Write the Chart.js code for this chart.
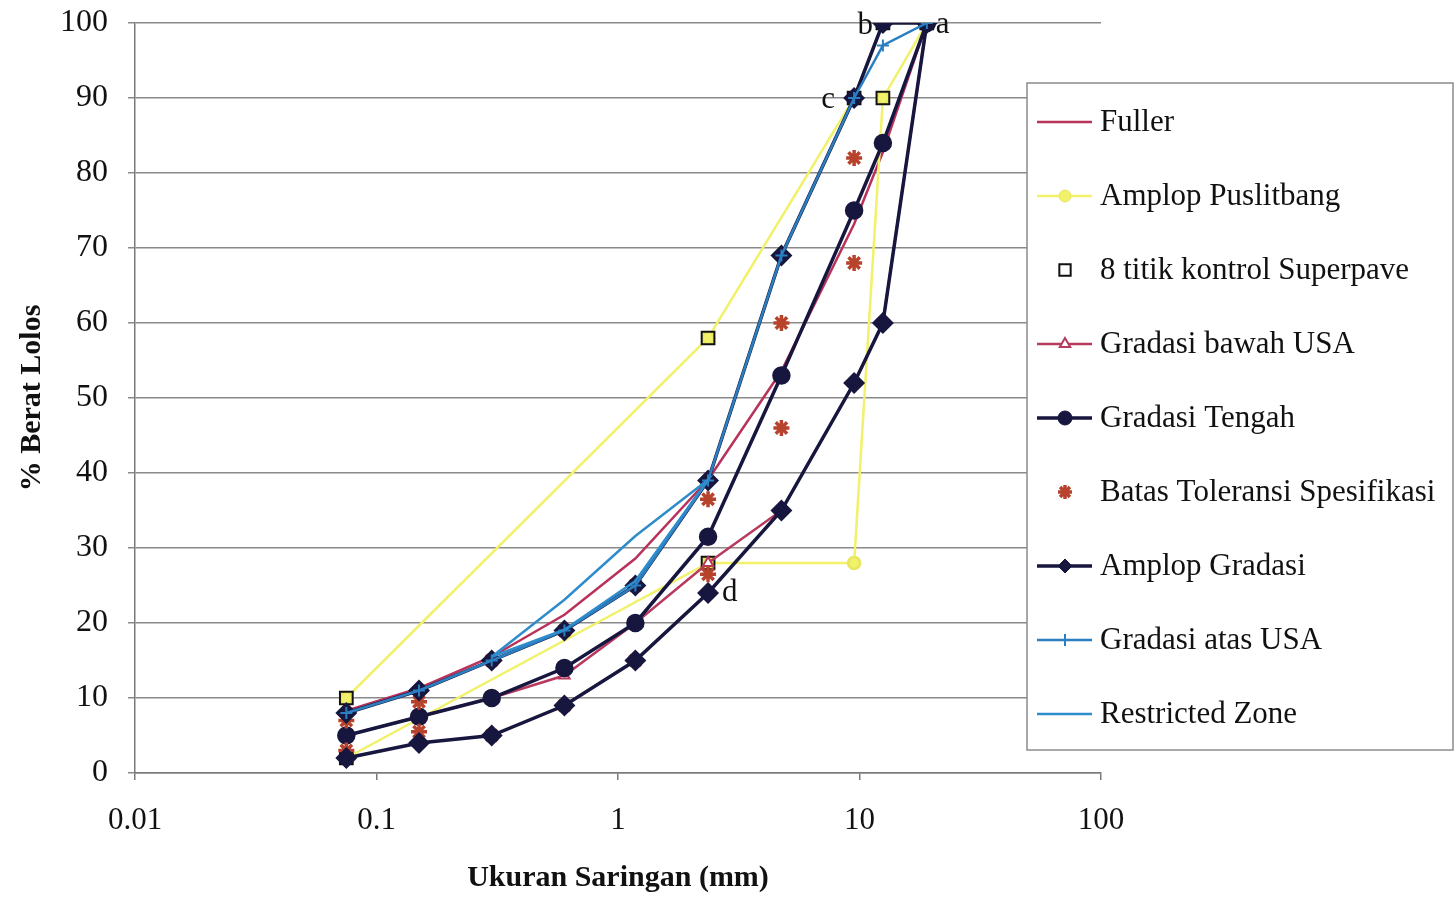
<!DOCTYPE html>
<html>
<head>
<meta charset="utf-8">
<script src="https://cdn.jsdelivr.net/npm/chart.js@4.4.1/dist/chart.umd.min.js"></script>
<style>
  html, body { margin: 0; padding: 0; background: #fff; }
  #wrap { width: 1456px; height: 899px; }
</style>
</head>
<body>
<div id="wrap"><canvas id="gradasiChart" width="1456" height="899"></canvas></div>
<script>
// ukuran saringan (mm)
const sieveSizes = [0.075, 0.15, 0.3, 0.6, 1.18, 2.36, 4.75, 9.5, 12.5, 19];

const fullerPassing = [8.3, 11.3, 15.5, 21.1, 28.6, 39.1, 53.6, 73.2, 82.8, 100];
const gradasiBawahUSA = [5, 7.5, 10, 13, 20, 28, 35, 52, 60, 100];
const gradasiTengah = [5, 7.5, 10, 14, 20, 31.5, 53, 75, 84, 100];
const gradasiAtasUSA = [8, 11, 15, 19, 25, 39, 69, 90, 97, 100];

// amplop puslitbang (bawah lalu atas)
const puslitbangX = [0.075, 2.36, 9.5, 12.5, 19, 12.5, 9.5, 2.36, 0.075];
const puslitbangY = [2, 28, 28, 90, 100, 100, 90, 58, 10];

// 8 titik kontrol superpave
const kontrolX = [0.075, 0.075, 2.36, 2.36, 9.5, 12.5, 12.5, 19];
const kontrolY = [2, 10, 28, 58, 90, 90, 100, 100];

// batas toleransi spesifikasi
const toleransiX = [0.075, 0.075, 0.15, 0.15, 0.3, 0.3, 0.6, 0.6, 1.18, 1.18, 2.36, 2.36, 4.75, 4.75, 9.5, 9.5];
const toleransiY = [7, 3, 9.5, 5.5, 15, 5, 19, 9, 25, 15, 36.5, 26.5, 60, 46, 82, 68];

// amplop gradasi (batas bawah lalu batas atas)
const amplopX = [0.075, 0.15, 0.3, 0.6, 1.18, 2.36, 4.75, 9.5, 12.5, 19, 12.5, 9.5, 4.75, 2.36, 1.18, 0.6, 0.3, 0.15, 0.075];
const amplopY = [2, 4, 5, 9, 15, 24, 35, 52, 60, 100, 100, 90, 69, 39, 25, 19, 15, 11, 8];

// restricted zone
const restrictedX = [0.3, 0.6, 1.18, 2.36, 1.18, 0.6, 0.3];
const restrictedY = [15.5, 23.1, 31.6, 39.1, 25.6, 19.1, 15.5];

const xTickValues = [0.01, 0.1, 1, 10, 100];
const xTickLabels = ['0.01', '0.1', '1', '10', '100'];

const pointLabels = [
    { text: 'a', x: 19, y: 100, dx: 9, dy: 2, align: 'left' },
    { text: 'b', x: 12.5, y: 100, dx: -10, dy: 3, align: 'right' },
    { text: 'c', x: 9.5, y: 90, dx: -19, dy: 2, align: 'right' },
    { text: 'd', x: 2.36, y: 24, dx: 14, dy: 0, align: 'left' }
];

function toPoints(xs, ys) {
    return xs.map((x, i) => ({ x: x, y: ys[i] }));
}

const serif = "'Liberation Serif', 'Times New Roman', serif";
const navy = '#16163e';

const datasets = [
    {
        label: 'Fuller',
        data: toPoints(sieveSizes, fullerPassing),
        showLine: true, borderColor: '#b8325a', borderWidth: 2.5, pointRadius: 0
    },
    {
        label: 'Amplop Puslitbang',
        data: toPoints(puslitbangX, puslitbangY),
        showLine: true, borderColor: '#f1f16a', borderWidth: 2.5,
        pointStyle: 'circle', pointRadius: 6, pointBackgroundColor: '#f1f16a', pointBorderColor: '#e6e660'
    },
    {
        label: '8 titik kontrol Superpave',
        data: toPoints(kontrolX, kontrolY),
        showLine: false, pointStyle: 'rect', pointRadius: 9,
        pointBackgroundColor: 'rgba(0,0,0,0)', pointBorderColor: '#111', pointBorderWidth: 2
    },
    {
        label: 'Gradasi bawah USA',
        data: toPoints(sieveSizes, gradasiBawahUSA),
        showLine: true, borderColor: '#b73a5e', borderWidth: 2.5,
        pointStyle: 'triangle', pointRadius: 6, pointBackgroundColor: '#fff', pointBorderColor: '#b73a5e', pointBorderWidth: 2
    },
    {
        label: 'Gradasi Tengah',
        data: toPoints(sieveSizes, gradasiTengah),
        showLine: true, borderColor: navy, borderWidth: 3.5,
        pointStyle: 'circle', pointRadius: 7.5, pointBackgroundColor: navy, pointBorderColor: navy
    },
    {
        label: 'Batas Toleransi Spesifikasi',
        data: toPoints(toleransiX, toleransiY),
        showLine: false, pointStyle: 'star', pointRadius: 8,
        pointBorderColor: '#b8432c', pointBackgroundColor: '#b8432c', pointBorderWidth: 3.5
    },
    {
        label: 'Amplop Gradasi',
        data: toPoints(amplopX, amplopY),
        showLine: true, borderColor: navy, borderWidth: 3.5,
        pointStyle: 'rectRot', pointRadius: 8.5, pointBackgroundColor: navy, pointBorderColor: navy
    },
    {
        label: 'Gradasi atas USA',
        data: toPoints(sieveSizes, gradasiAtasUSA),
        showLine: true, borderColor: '#2b7fc0', borderWidth: 2.5,
        pointStyle: 'cross', pointRadius: 6, pointBorderColor: '#2b7fc0', pointBorderWidth: 2
    },
    {
        label: 'Restricted Zone',
        data: toPoints(restrictedX, restrictedY),
        showLine: true, borderColor: '#2f8ccc', borderWidth: 2.5, pointRadius: 0
    }
];

// seri terakhir digambar paling atas, seperti di Excel
datasets.forEach((ds, i) => {
    ds.order = datasets.length - i;
    ds.tension = 0;
    ds.fill = false;
});

const boxLegend = {
    id: 'boxLegend',
    afterDraw(chart) {
        const ctx = chart.ctx;
        const left = 1027, top = 83, width = 426, height = 667;
        ctx.save();
        ctx.fillStyle = '#fff';
        ctx.fillRect(left, top, width, height);
        ctx.strokeStyle = '#8c8c8c';
        ctx.lineWidth = 1.5;
        ctx.strokeRect(left, top, width, height);

        chart.data.datasets.forEach((ds, i) => {
            const cy = 122 + i * 74;
            if (ds.showLine) {
                ctx.strokeStyle = ds.borderColor;
                ctx.lineWidth = ds.borderWidth;
                ctx.beginPath();
                ctx.moveTo(1037, cy);
                ctx.lineTo(1092, cy);
                ctx.stroke();
            }
            if (ds.pointRadius > 0 && Chart.helpers && Chart.helpers.drawPoint) {
                ctx.fillStyle = ds.pointBackgroundColor || ds.borderColor;
                ctx.strokeStyle = ds.pointBorderColor || ds.borderColor;
                ctx.lineWidth = ds.pointBorderWidth || 1;
                const r = ds.pointStyle === 'rect' ? 8 : Math.min(ds.pointRadius, 7);
                Chart.helpers.drawPoint(ctx, {
                    pointStyle: ds.pointStyle,
                    radius: r,
                    rotation: 0,
                    borderWidth: ds.pointBorderWidth || 1
                }, 1065, cy);
            }
            ctx.fillStyle = '#111';
            ctx.font = '31px ' + serif;
            ctx.textAlign = 'left';
            ctx.textBaseline = 'middle';
            ctx.fillText(ds.label, 1100, cy + 1);
        });
        ctx.restore();
    }
};

const letterLabels = {
    id: 'letterLabels',
    afterDatasetsDraw(chart) {
        const ctx = chart.ctx;
        const xs = chart.scales.x, ys = chart.scales.y;
        ctx.save();
        ctx.fillStyle = '#111';
        ctx.font = '31px ' + serif;
        ctx.textBaseline = 'middle';
        pointLabels.forEach(p => {
            ctx.textAlign = p.align;
            ctx.fillText(p.text, xs.getPixelForValue(p.x) + p.dx, ys.getPixelForValue(p.y) + p.dy);
        });
        ctx.restore();
    }
};

const ctx = document.getElementById('gradasiChart').getContext('2d');
const gradasiChart = new Chart(ctx, {
    type: 'scatter',
    data: { datasets: datasets },
    options: {
        responsive: false,
        animation: false,
        devicePixelRatio: 1,
        events: [],
        layout: { padding: { left: 0, right: 355, top: 23, bottom: 0 } },
        plugins: {
            legend: { display: false },
            tooltip: { enabled: false }
        },
        scales: {
            x: {
                type: 'logarithmic',
                position: 'bottom',
                min: 0.01,
                max: 100,
                afterBuildTicks: function(scale) {
                    scale.ticks = xTickValues.map(v => ({ value: v, major: true }));
                },
                afterFit: function(scale) {
                    scale.height = 126;
                    scale.paddingLeft = 0;
                    scale.paddingRight = 0;
                },
                ticks: {
                    autoSkip: false,
                    maxRotation: 0,
                    padding: 22,
                    color: '#111',
                    font: { family: serif, size: 31 },
                    callback: function(value, index) { return xTickLabels[index]; }
                },
                grid: { drawOnChartArea: false, drawTicks: true, tickLength: 7, color: '#7a7a7a', lineWidth: 1.5 },
                border: { display: true, color: '#7a7a7a', width: 1.5 },
                title: {
                    display: true,
                    text: 'Ukuran Saringan (mm)',
                    color: '#111',
                    font: { family: serif, size: 30, weight: 'bold' },
                    padding: { top: 0, bottom: 3 }
                }
            },
            y: {
                type: 'linear',
                min: 0,
                max: 100,
                afterFit: function(scale) {
                    scale.width = 135;
                    scale.paddingTop = 0;
                    scale.paddingBottom = 0;
                },
                ticks: {
                    stepSize: 10,
                    padding: 20,
                    color: '#111',
                    font: { family: serif, size: 32 }
                },
                grid: { color: '#8a8a8a', lineWidth: 1.5, tickLength: 7 },
                border: { display: true, color: '#7a7a7a', width: 1.5 },
                title: {
                    display: true,
                    text: '% Berat Lolos',
                    color: '#111',
                    font: { family: serif, size: 30, weight: 'bold' },
                    padding: { top: 14, bottom: 0 }
                }
            }
        }
    },
    plugins: [letterLabels, boxLegend]
});
</script>
</body>
</html>
